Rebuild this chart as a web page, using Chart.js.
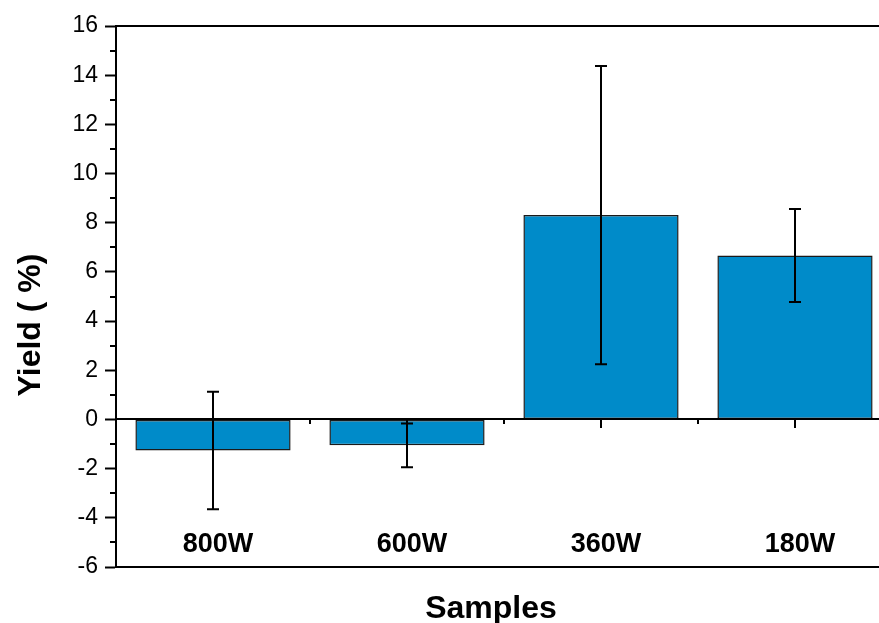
<!DOCTYPE html>
<html>
<head>
<meta charset="utf-8">
<title>Yield by sample</title>
<script src="https://cdn.jsdelivr.net/npm/chart.js@4.4.1/dist/chart.umd.min.js"></script>
<style>
    html, body { margin: 0; padding: 0; background: #fff; overflow: hidden; }
    #wrap { position: relative; width: 900px; height: 623px; }
</style>
</head>
<body>
<div id="wrap"><canvas id="yieldChart"></canvas></div>
<script>
// Dados: rendimento médio por potência e desvio padrão
const samples = ['800W', '600W', '360W', '180W'];
const yieldMean = [-1.26, -1.05, 8.31, 6.67];
const yieldSd = [2.39, 0.89, 6.06, 1.89];

const FONT = "Arial, 'Liberation Sans', sans-serif";

// Plugin para desenhar moldura, eixo no zero, barras de erro e títulos
const decorPlugin = {
    id: 'decor',
    afterDatasetsDraw(chart) {
        const { ctx, chartArea, scales } = chart;
        const x = scales.x, y = scales.y;
        ctx.save();
        ctx.strokeStyle = '#000';
        ctx.fillStyle = '#000';

        // linha superior da moldura
        ctx.lineWidth = 2;
        ctx.beginPath();
        ctx.moveTo(chartArea.left, chartArea.top);
        ctx.lineTo(chart.width, chartArea.top);
        ctx.stroke();

        // ticks menores do eixo Y
        for (let v = y.min + 1; v < y.max; v += 2) {
            const py = Math.round(y.getPixelForValue(v));
            ctx.beginPath();
            ctx.moveTo(chartArea.left - 6, py);
            ctx.lineTo(chartArea.left, py);
            ctx.stroke();
        }

        // eixo horizontal no zero
        const y0 = Math.round(y.getPixelForValue(0));
        ctx.beginPath();
        ctx.moveTo(chartArea.left, y0);
        ctx.lineTo(chartArea.right, y0);
        ctx.stroke();
        const step = x.getPixelForValue(1) - x.getPixelForValue(0);
        samples.forEach((s, i) => {
            const cx = Math.round(x.getPixelForValue(i));
            ctx.beginPath();
            ctx.moveTo(cx, y0);
            ctx.lineTo(cx, y0 + 9);
            ctx.stroke();
            const bx = Math.round(cx + step / 2);
            ctx.beginPath();
            ctx.moveTo(bx, y0);
            ctx.lineTo(bx, y0 + 5);
            ctx.stroke();
        });

        // barras de erro
        samples.forEach((s, i) => {
            const cx = Math.round(x.getPixelForValue(i));
            const top = y.getPixelForValue(yieldMean[i] + yieldSd[i]);
            const bot = y.getPixelForValue(yieldMean[i] - yieldSd[i]);
            ctx.beginPath();
            ctx.moveTo(cx, top);
            ctx.lineTo(cx, bot);
            ctx.moveTo(cx - 6, top);
            ctx.lineTo(cx + 6, top);
            ctx.moveTo(cx - 6, bot);
            ctx.lineTo(cx + 6, bot);
            ctx.stroke();
        });

        // rótulos das categorias
        ctx.font = `bold 27px ${FONT}`;
        ctx.textAlign = 'center';
        ctx.textBaseline = 'alphabetic';
        samples.forEach((s, i) => {
            ctx.fillText(s, x.getPixelForValue(i) + 5, 552);
        });

        // títulos dos eixos
        ctx.font = `bold 32px ${FONT}`;
        ctx.fillText('Samples', 491, 618);
        ctx.save();
        ctx.translate(40, 325);
        ctx.rotate(-Math.PI / 2);
        ctx.fillText('Yield ( %)', 0, 0);
        ctx.restore();

        ctx.restore();
    }
};

const ctx = document.getElementById('yieldChart').getContext('2d');
new Chart(ctx, {
    type: 'bar',
    data: {
        labels: samples,
        datasets: [{
            label: 'Yield (%)',
            data: yieldMean,
            backgroundColor: '#008BC9',
            borderColor: '#1a1a1a',
            borderWidth: 1.5,
            borderSkipped: false,
            categoryPercentage: 1,
            barPercentage: 0.8
        }]
    },
    options: {
        responsive: true,
        maintainAspectRatio: false,
        animation: false,
        layout: {
            padding: { top: 26, right: 8, bottom: 56, left: 0 }
        },
        plugins: {
            legend: { display: false },
            tooltip: { enabled: false }
        },
        scales: {
            x: {
                position: 'bottom',
                grid: { display: false },
                ticks: { display: false },
                border: { display: true, color: '#000', width: 2 },
                afterFit(scale) { scale.height = 0; }
            },
            y: {
                min: -6,
                max: 16,
                ticks: {
                    stepSize: 2,
                    color: '#000',
                    padding: 7,
                    font: { family: FONT, size: 23 }
                },
                grid: {
                    drawOnChartArea: false,
                    drawTicks: true,
                    tickLength: 11,
                    tickWidth: 2,
                    tickColor: '#000'
                },
                border: { display: true, color: '#000', width: 2 },
                afterFit(scale) { scale.width = 116; }
            }
        }
    },
    plugins: [decorPlugin]
});
</script>
</body>
</html>
